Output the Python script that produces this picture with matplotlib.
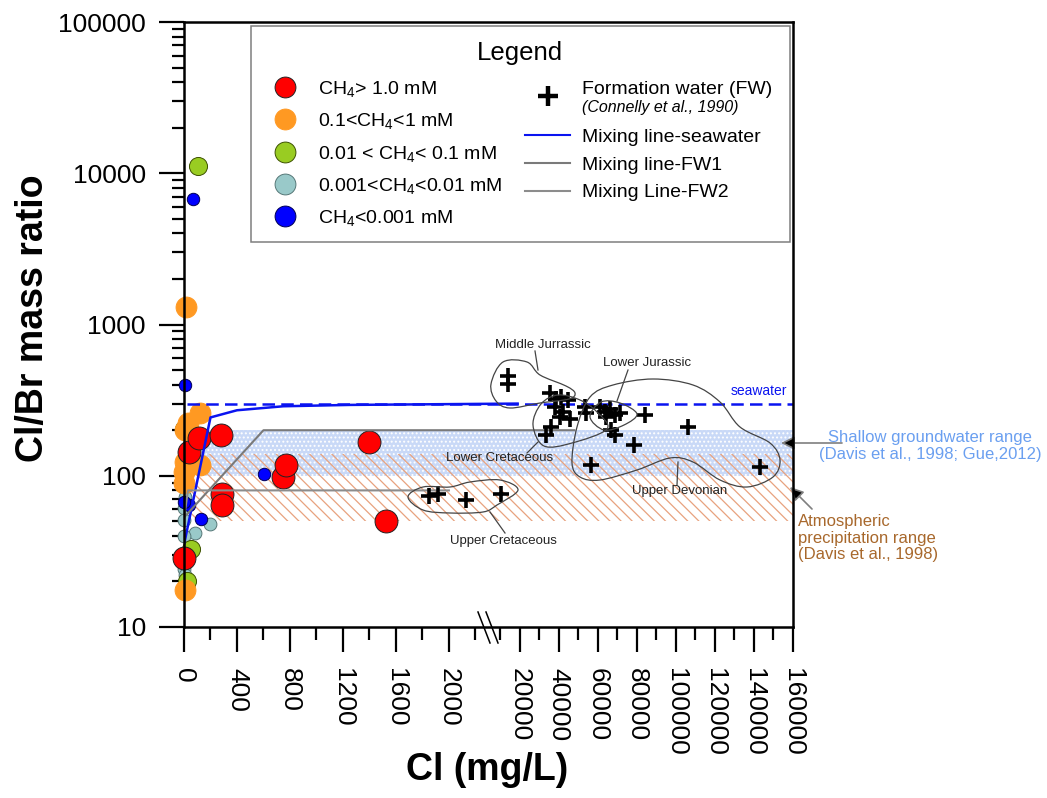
import numpy as np
import matplotlib
matplotlib.use("Agg")
import matplotlib.pyplot as plt
from matplotlib.lines import Line2D
from matplotlib.patches import Rectangle, PathPatch
from matplotlib.path import Path
from matplotlib.transforms import Affine2D
from matplotlib.legend_handler import HandlerLine2D
from matplotlib.ticker import FixedLocator, FixedFormatter, LogLocator, NullFormatter, FuncFormatter

plt.rcParams['font.family'] = ['Liberation Sans', 'DejaVu Sans']
plt.rcParams['mathtext.fontset'] = 'custom'
plt.rcParams['mathtext.rm'] = 'Liberation Sans'
plt.rcParams['mathtext.it'] = 'Liberation Sans:italic'
plt.rcParams['mathtext.bf'] = 'Liberation Sans:bold'
plt.rcParams['hatch.linewidth'] = 0.9

# ---- groundwater samples by CH4 class (Cl mg/L, Cl/Br mass ratio)
red_cl = [0, 38, 113, 277, 290, 290, 744, 769, 1394, 1526]
red_ratio = [28.5, 144, 177, 185, 76, 64, 98, 117, 166, 50]
orange_cl = [13, 120, 30, 5, 120, 10, 0, 0, 10]
orange_ratio = [1300, 258, 222, 200, 117, 123, 106, 90, 17.5]
green_cl = [108, 0, 50, 25]
green_ratio = [11100, 205, 33, 20]
ltblue_cl = [200, 85, 0, 0, 0, 0, 0, 10, 5]
ltblue_ratio = [48, 42, 84, 61, 51, 40, 24, 22, 72]
blue_cl = [70, 5, 605, 126, 38, 0]
blue_ratio = [6800, 397, 103, 52, 64, 67]

# ---- formation water (Connelly et al., 1990)
fw_cl = [1850, 1920, 2130, 10600, 14000, 14000, 35400, 38800, 41400, 44800,
         37900, 42200, 45600, 40500, 36300, 33700, 53300, 54200, 61000, 63600,
         66200, 68700, 64500, 71300, 67000, 68700, 84300, 78700, 56800, 106300,
         143100]
fw_ratio = [74, 76, 69, 76, 455, 407, 350, 324, 332, 316,
            285, 264, 239, 245, 210, 185, 285, 258, 285, 264,
            278, 251, 245, 258, 200, 185, 251, 159, 117, 210,
            114]

# ---- mixing lines and reference ranges
sw_mix_cl = [0, 200, 400, 750, 1250, 19000]
sw_mix_ratio = [35, 243, 271, 288, 294, 300]
fw1_cl = [0, 600, 48000]
fw1_ratio = [53, 200, 200]
fw2_cl = [0, 30, 2000]
fw2_ratio = [52, 80, 80]
seawater_ratio = 300
sgw_range = (100, 200)      # shallow groundwater
precip_range = (50, 140)    # atmospheric precipitation

cat_colors = ['#ff0000', '#ff9922', '#99cc22', '#99c9c9', '#0000ff']
cat_edges = ['#222222', '#ff9922', '#3d5200', '#557777', '#000055']
cat_labels = [r'CH$_4$> 1.0 mM', r'0.1<CH$_4$<1 mM', r'0.01 < CH$_4$< 0.1 mM',
              r'0.001<CH$_4$<0.01 mM', r'CH$_4$<0.001 mM']

W, H = 1047, 798
L, R, T, B = 184, 793, 22, 627   # plot frame in canvas pixels


def axfrac(px, py):
    return (px - L) / (R - L), (B - py) / (B - T)


def figfrac(px, py):
    return px / W, 1 - py / H


fig = plt.figure(figsize=(W / 100, H / 100), dpi=100)
ax = fig.add_axes([L / W, 1 - B / H, (R - L) / W, (B - T) / H])

# broken x axis: 0-2300 linear, then 4000-160000 compressed
brk_x = np.array([-1e6, 0, 2300, 4359, 160000, 1e7])
brk_u = np.array([-1e6 * 0.1322, 0, 304.1, 304.5, 608, 608 + (1e7 - 160000) * 0.00195])


def fwd(x):
    return np.interp(x, brk_x, brk_u)


def inv(u):
    return np.interp(u, brk_u, brk_x)


ax.set_xscale('function', functions=(fwd, inv))
ax.set_yscale('log')
ax.set_xlim(0, 160000)
ax.set_ylim(10, 100000)

# ranges
band_x = [30, 160000]
ax.fill_between(band_x, sgw_range[0], sgw_range[1], facecolor='#c9d9f7',
                edgecolor='white', hatch='....', linewidth=0, zorder=1)
ax.fill_between(band_x, precip_range[0], precip_range[1], facecolor='none',
                edgecolor='#e8a27e', hatch='\\' * 3, linewidth=0, zorder=1.5)

# samples
groups = [(ltblue_cl, ltblue_ratio, 85), (green_cl, green_ratio, 169),
          (orange_cl, orange_ratio, 225), (blue_cl, blue_ratio, 80),
          (red_cl, red_ratio, 272)]
order = [3, 2, 1, 4, 0]
for (xs, ys, s), ci in zip(groups, order):
    ax.scatter(xs, ys, s=s, color=cat_colors[ci], edgecolors=cat_edges[ci],
               linewidths=0.7, zorder=2, clip_on=False)

# mixing lines
ax.plot([20, 160000], [seawater_ratio] * 2, color='#0a14f0', lw=1.8,
        dashes=(5, 2.5), zorder=3)
ax.plot(sw_mix_cl, sw_mix_ratio, color='#0a14f0', lw=1.8, zorder=3)
ax.plot(fw1_cl, fw1_ratio, color='#7a7a7a', lw=1.5, zorder=3)
ax.plot(fw2_cl, fw2_ratio, color='#8c8c8c', lw=1.5, zorder=3)

ax.plot(fw_cl, fw_ratio, ls='none', marker='+', ms=12, mew=2.6,
        color='black', zorder=4)


# outlines around formation-water groups
def smooth_closed(pts):
    p = np.array([axfrac(*q) for q in pts])
    n = len(p)
    verts = [p[0]]
    codes = [Path.MOVETO]
    for i in range(n):
        p0, p1, p2, p3 = p[i - 1], p[i], p[(i + 1) % n], p[(i + 2) % n]
        verts += [p1 + (p2 - p0) / 6, p2 - (p3 - p1) / 6, p2]
        codes += [Path.CURVE4] * 3
    return Path(verts, codes)


outlines = {
    'Middle Jurrassic': [(491, 384), (503, 362), (527, 362), (540, 375), (566, 386),
                         (575, 393), (569, 399), (540, 403), (510, 408), (496, 401)],
    'Lower Jurassic': [(590, 417), (601, 402), (620, 403), (637, 414),
                       (624, 425), (604, 430)],
    'Lower Cretaceous': [(533, 425), (541, 404), (558, 395), (580, 400),
                         (597, 412), (607, 429), (572, 443), (544, 446)],
    'Upper Devonian': [(572, 463), (577, 427), (590, 397), (613, 385), (653, 379),
                       (693, 385), (720, 402), (740, 427), (770, 443), (780, 460),
                       (773, 477), (747, 487), (720, 480), (693, 462), (670, 458),
                       (637, 470), (600, 480), (580, 477)],
    'Upper Cretaceous': [(408, 497), (423, 487), (450, 487), (470, 482), (500, 480),
                         (518, 490), (497, 505), (483, 512), (450, 513), (423, 510)],
}
labels_at = {
    'Middle Jurrassic': ((543, 345), (535, 351), (538, 370)),
    'Lower Jurassic': ((647, 363), (628, 370), (617, 401)),
    'Lower Cretaceous': ((500, 458), (527, 453), (538, 442)),
    'Upper Devonian': ((680, 491), (677, 485), (678, 462)),
    'Upper Cretaceous': ((503, 541), (505, 533), (490, 512)),
}
for name, pts in outlines.items():
    ax.add_patch(PathPatch(smooth_closed(pts), transform=ax.transAxes, fill=False,
                           edgecolor='#444444', lw=0.9, zorder=4))
    (tx, ty), (ax0, ay0), (ax1, ay1) = labels_at[name]
    ax.text(*axfrac(tx, ty), name, transform=ax.transAxes, ha='center', va='center',
            fontsize=9.5, color='#222222', zorder=5)
    a0, a1 = axfrac(ax0, ay0), axfrac(ax1, ay1)
    ax.plot([a0[0], a1[0]], [a0[1], a1[1]], transform=ax.transAxes,
            color='#444444', lw=0.9, zorder=4)

ax.text(*axfrac(787, 391), 'seawater', transform=ax.transAxes, ha='right',
        va='center', fontsize=10, color='#0a14f0')

# right-hand range annotations
ax.annotate('', xy=axfrac(781, 443), xycoords='axes fraction',
            xytext=axfrac(842, 443), textcoords='axes fraction',
            arrowprops=dict(arrowstyle='-|>', fc='black', ec='#7f7f7f', lw=1.2,
                            shrinkA=0, shrinkB=0, mutation_scale=20),
            annotation_clip=False)
ax.annotate('', xy=axfrac(790, 487), xycoords='axes fraction',
            xytext=axfrac(812, 509), textcoords='axes fraction',
            arrowprops=dict(arrowstyle='-|>', fc='black', ec='#7f7f7f', lw=1.2,
                            shrinkA=0, shrinkB=0, mutation_scale=20),
            annotation_clip=False)
ax.text(*axfrac(930, 446), 'Shallow groundwater range\n(Davis et al., 1998; Gue,2012)',
        transform=ax.transAxes, ha='center', va='center', multialignment='center',
        fontsize=12, color='#6a9ff0', linespacing=1.1)
ax.text(*axfrac(798, 538), 'Atmospheric\nprecipitation range\n(Davis et al., 1998)',
        transform=ax.transAxes, ha='left', va='center', fontsize=12,
        color='#a8682c', linespacing=1.1)

# axis break marks
for x0, x1 in [(478, 490), (486, 498)]:
    p0, p1 = axfrac(x0, 612), axfrac(x1, 643)
    ax.plot([p0[0], p1[0]], [p0[1], p1[1]], transform=ax.transAxes,
            color='black', lw=1.1, clip_on=False, zorder=7)

# ticks
x_major = [0, 400, 800, 1200, 1600, 2000, 20000, 40000, 60000, 80000,
           100000, 120000, 140000, 160000]
x_minor = [200, 600, 1000, 1400, 1800, 2200, 10000, 30000, 50000, 70000,
           90000, 110000, 130000, 150000]
ax.xaxis.set_major_locator(FixedLocator(x_major))
ax.xaxis.set_major_formatter(FixedFormatter([str(v) for v in x_major]))
ax.xaxis.set_minor_locator(FixedLocator(x_minor))
ax.xaxis.set_minor_formatter(NullFormatter())
ax.yaxis.set_major_locator(LogLocator(base=10, numticks=10))
ax.yaxis.set_major_formatter(FuncFormatter(lambda v, _: f'{int(round(v))}'))
ax.yaxis.set_minor_locator(LogLocator(base=10, subs=np.arange(2, 10), numticks=20))
ax.yaxis.set_minor_formatter(NullFormatter())

ax.tick_params(which='both', direction='out', width=1.6, colors='black',
               top=False, right=False)
ax.tick_params(which='major', length=18, labelsize=19)
ax.tick_params(which='minor', length=9)
ax.tick_params(axis='y', which='major', pad=9.5)
ax.tick_params(axis='x', which='major', pad=11.5, labelrotation=-90)

for sp in ax.spines.values():
    sp.set_linewidth(1.8)
    sp.set_zorder(6)

ax.set_ylabel('Cl/Br mass ratio', fontsize=27, fontweight='bold')
ax.yaxis.set_label_coords(*axfrac(51, 318))
ax.set_xlabel('Cl (mg/L)', fontsize=27, fontweight='bold')
ax.xaxis.set_label_coords(*axfrac(487, 770))
ax.xaxis.label.set_va('center')

# legend panel
fig.add_artist(Rectangle(figfrac(251, 242), (790 - 251) / W, (242 - 26) / H,
                         transform=fig.transFigure, facecolor='white',
                         edgecolor='#7f7f7f', lw=1.1, zorder=1))
fig.text(*figfrac(520, 53), 'Legend', ha='center', va='center', fontsize=18.5)

cat_handles = [Line2D([], [], ls='none', marker='o', ms=15, mfc=c, mec=e, mew=0.7)
               for c, e in zip(cat_colors, cat_edges)]
fig.legend(cat_handles, cat_labels, loc='upper left', bbox_to_anchor=figfrac(275.3, 79),
           bbox_transform=fig.transFigure, frameon=False, fontsize=14,
           handlelength=1.0, handletextpad=1.2, labelspacing=0.63,
           borderpad=0, borderaxespad=0)


class LoweredHandler(HandlerLine2D):
    # draws the cross a little below its label, between label and citation
    def create_artists(self, legend, orig_handle, xdescent, ydescent,
                       width, height, fontsize, trans):
        return super().create_artists(legend, orig_handle, xdescent, ydescent, width,
                                       height, fontsize,
                                       trans + Affine2D().translate(0, -9.5))


fw_handle = Line2D([], [], ls='none', marker='+', ms=15, mew=3.2, color='black')
fig.legend([fw_handle], ['Formation water (FW)'], loc='upper left',
           bbox_to_anchor=figfrac(538, 80), bbox_transform=fig.transFigure,
           frameon=False, fontsize=14, handlelength=1.0, handletextpad=1.25,
           borderpad=0, borderaxespad=0,
           handler_map={fw_handle: LoweredHandler()})
fig.text(*figfrac(582, 107.5), '(Connelly et al., 1990)', ha='left', va='center',
         fontsize=11.5, style='italic')

line_handles = [Line2D([], [], color='#0a14f0', lw=1.5),
                Line2D([], [], color='#7a7a7a', lw=1.5),
                Line2D([], [], color='#8c8c8c', lw=1.5)]
line_labels = ['Mixing line-seawater', 'Mixing line-FW1', 'Mixing Line-FW2']
fig.legend(line_handles, line_labels, loc='upper left', bbox_to_anchor=figfrac(525, 128),
           bbox_transform=fig.transFigure, frameon=False, fontsize=14,
           handlelength=2.32, handletextpad=0.6, labelspacing=0.53,
           borderpad=0, borderaxespad=0)

fig.savefig('out.png', dpi=100)
